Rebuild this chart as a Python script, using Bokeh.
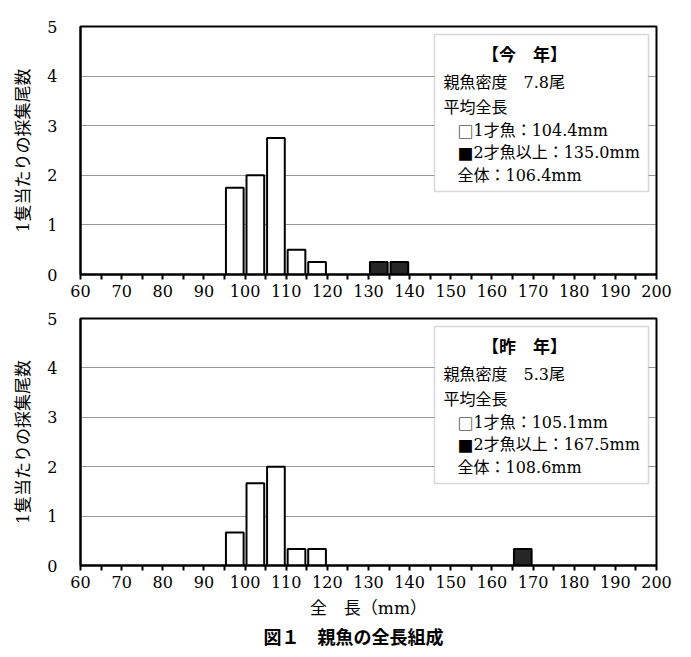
from bokeh.plotting import figure
from bokeh.models import Range1d, FixedTicker, BoxAnnotation, Label, Title
from bokeh.layouts import column
from bokeh.embed import file_html
from bokeh.resources import INLINE

# ---------------- data ----------------
bin_centers = [97.5, 102.5, 107.5, 112.5, 117.5, 122.5, 127.5, 132.5,
               137.5, 142.5, 147.5, 152.5, 157.5, 162.5, 167.5]
this_year_age1 = [1.75, 2.0, 2.75, 0.5, 0.25, 0, 0, 0, 0, 0, 0, 0, 0, 0, 0]
this_year_age2 = [0, 0, 0, 0, 0, 0, 0, 0.25, 0.25, 0, 0, 0, 0, 0, 0]
last_year_age1 = [0.667, 1.667, 2.0, 0.333, 0.333, 0, 0, 0, 0, 0, 0, 0, 0, 0, 0]
last_year_age2 = [0, 0, 0, 0, 0, 0, 0, 0, 0, 0, 0, 0, 0, 0, 0.333]

x_ticks = list(range(60, 201, 10))
x_minor_ticks = list(range(65, 200, 10))
y_ticks = [0, 1, 2, 3, 4, 5]
grid_ticks = [1, 2, 3, 4]

# legend rows: (marker, text)
this_year_text = [("", "【今　年】"), ("", "親魚密度　7.8尾"), ("", "平均全長"),
                  ("□", "1才魚：104.4mm"), ("■", "2才魚以上：135.0mm"), ("", "全体：106.4mm")]
last_year_text = [("", "【昨　年】"), ("", "親魚密度　5.3尾"), ("", "平均全長"),
                  ("□", "1才魚：105.1mm"), ("■", "2才魚以上：167.5mm"), ("", "全体：108.6mm")]

y_label = "1隻当たりの採集尾数"
x_label = "全　長（mm）"
caption = "図１　親魚の全長組成"

# ---------------- style ----------------
W = 691
FRAME_L, FRAME_R = 80, 656
MIX_FONT = "DejaVu Serif, Noto Sans CJK JP"
SERIF = "DejaVu Serif"
CJK = "Noto Sans CJK JP"
LEG_SIZE = 16


def px_to_x(px):
    return 60 + (px - FRAME_L) * 140.0 / (FRAME_R - FRAME_L)


def make_panel(age1, age2, texts, height, b_top, frame_h, last=False):
    p = figure(width=W, height=height, output_backend="svg", toolbar_location=None,
               x_range=Range1d(60, 200), y_range=Range1d(0, 5),
               min_border_left=FRAME_L, min_border_right=W - FRAME_R,
               min_border_top=b_top, min_border_bottom=height - b_top - frame_h,
               title=None)
    p.background_fill_color = "white"
    p.border_fill_color = "white"
    p.outline_line_color = "black"
    p.outline_line_width = 2

    p.xgrid.visible = False
    p.ygrid.ticker = FixedTicker(ticks=grid_ticks)
    p.ygrid.grid_line_color = "#333333"
    p.ygrid.grid_line_dash = "1 1"
    p.ygrid.grid_line_width = 1

    p.xaxis.ticker = FixedTicker(ticks=x_ticks, minor_ticks=x_minor_ticks)
    p.xaxis.axis_line_width = 2
    p.xaxis.major_tick_out = 5
    p.xaxis.major_tick_in = 0
    p.xaxis.minor_tick_out = 5
    p.xaxis.minor_tick_in = 0
    p.xaxis.major_tick_line_width = 2
    p.xaxis.minor_tick_line_width = 2
    p.xaxis.minor_tick_line_color = "black"
    p.xaxis.major_label_text_font = SERIF
    p.xaxis.major_label_text_font_size = "16px"
    p.xaxis.major_label_text_color = "black"
    p.xaxis.major_label_standoff = 5

    p.yaxis.ticker = FixedTicker(ticks=y_ticks)
    p.yaxis.axis_line_width = 2
    p.yaxis.major_tick_out = 0
    p.yaxis.major_tick_in = 0
    p.yaxis.minor_tick_out = 0
    p.yaxis.major_label_text_font = SERIF
    p.yaxis.major_label_text_font_size = "16px"
    p.yaxis.major_label_text_color = "black"
    p.yaxis.major_label_standoff = 23
    p.yaxis.axis_label = y_label
    p.yaxis.axis_label_text_font = MIX_FONT
    p.yaxis.axis_label_text_font_size = "17px"
    p.yaxis.axis_label_text_font_style = "normal"
    p.yaxis.axis_label_text_color = "black"
    p.yaxis.axis_label_standoff = 11

    xs1 = [c for c, v in zip(bin_centers, age1) if v > 0]
    ys1 = [v for v in age1 if v > 0]
    xs2 = [c for c, v in zip(bin_centers, age2) if v > 0]
    ys2 = [v for v in age2 if v > 0]
    p.vbar(x=xs1, top=ys1, width=4.3, fill_color="white", line_color="black", line_width=2)
    p.vbar(x=xs2, top=ys2, width=4.3, fill_color="#262626", line_color="black", line_width=2)

    ppu = frame_h / 5.0
    box_top_px, box_bot_px = 8, 165
    p.add_layout(BoxAnnotation(left=px_to_x(434), right=px_to_x(648),
                               top=5 - box_top_px / ppu, bottom=5 - box_bot_px / ppu,
                               fill_color="white", fill_alpha=1.0,
                               line_color="#7f7f7f", line_width=1.5))
    row_offsets = [20, 48, 73, 96, 118, 141]
    row_x = [524, 443, 443, 457, 457, 457]
    for i, (mark, t) in enumerate(texts):
        y = 5 - (box_top_px + row_offsets[i]) / ppu
        tx = row_x[i]
        if mark:
            p.add_layout(Label(x=px_to_x(tx), y=y, text=mark, text_font=CJK,
                               text_font_size=f"{LEG_SIZE}px", text_baseline="middle",
                               text_align="left", text_color="black"))
            tx += LEG_SIZE
        lab = Label(x=px_to_x(tx), y=y, text=t,
                    text_font=MIX_FONT, text_font_size=f"{LEG_SIZE + (1 if i == 0 else 0)}px",
                    text_baseline="middle",
                    text_align="center" if i == 0 else "left",
                    text_font_style="bold" if i == 0 else "normal",
                    text_color="black")
        p.add_layout(lab)

    if last:
        p.xaxis.axis_label = x_label
        p.xaxis.axis_label_text_font = MIX_FONT
        p.xaxis.axis_label_text_font_size = "17px"
        p.xaxis.axis_label_text_font_style = "normal"
        p.xaxis.axis_label_text_color = "black"
        p.xaxis.axis_label_standoff = 7
        cap = Title(text=caption, align="left", offset=183,
                    text_font=CJK, text_font_size="18px",
                    text_font_style="bold", text_color="black", standoff=0)
        p.add_layout(cap, "below")
    return p


top = make_panel(this_year_age1, this_year_age2, this_year_text, 305, 26, 248)
bottom = make_panel(last_year_age1, last_year_age2, last_year_text, 352, 13, 247, last=True)

layout = column(top, bottom, spacing=0)
open("out.html", "w").write(file_html(layout, INLINE))
